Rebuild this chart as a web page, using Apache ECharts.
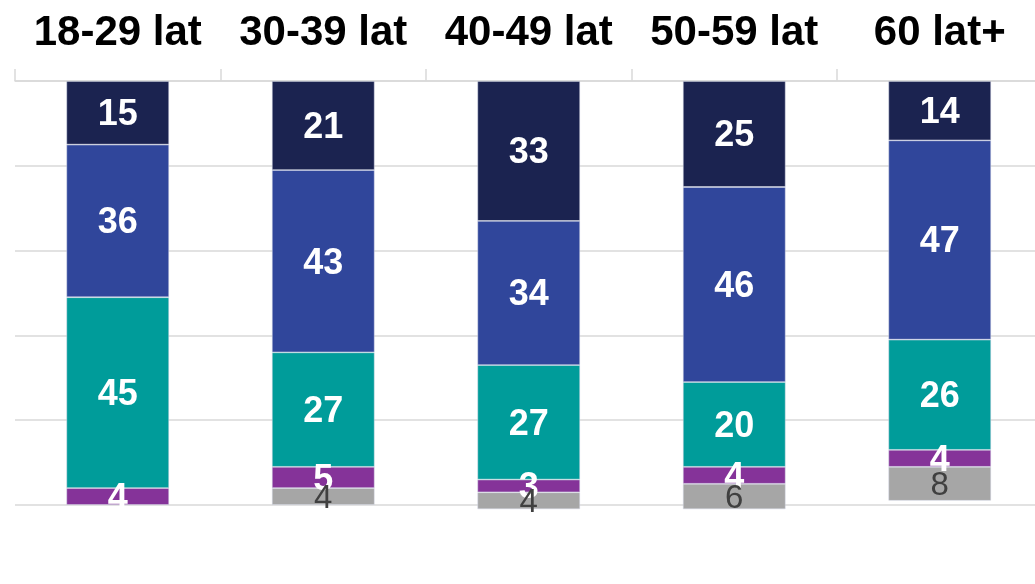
<!DOCTYPE html>
<html>
<head>
<meta charset="utf-8">
<script src="https://cdn.jsdelivr.net/npm/echarts@6/dist/echarts.min.js"></script>
<style>
html,body{margin:0;padding:0;background:#fff;}
#chart{width:1035px;height:584px;}
</style>
</head>
<body>
<div id="chart"></div>
<script>
var categories = ['18-29 lat', '30-39 lat', '40-49 lat', '50-59 lat', '60 lat+'];
var navyValues   = [15, 21, 33, 25, 14];
var blueValues   = [36, 43, 34, 46, 47];
var tealValues   = [45, 27, 27, 20, 26];
var purpleValues = [4, 5, 3, 4, 4];
var grayValues   = [null, 4, 4, 6, 8];
var yTicks = [0, 20, 40, 60, 80, 100];

var FONT = '"Liberation Sans", Arial, sans-serif';

function seg(name, data, color, labelColor, bold, size) {
  return {
    name: name,
    type: 'bar',
    stack: 'total',
    data: data,
    barWidth: '50%',
    clip: false,
    itemStyle: { color: color, borderColor: 'rgba(210,214,230,0.6)', borderWidth: 0.8 },
    label: {
      show: true,
      position: 'inside',
      offset: [0, 2.5],
      color: labelColor,
      fontFamily: FONT,
      fontWeight: bold ? 'bold' : 'normal',
      fontSize: size,
      formatter: function (p) { return p.value == null ? '' : String(p.value); }
    },
    emphasis: { disabled: true }
  };
}

var chart = echarts.init(document.getElementById('chart'));
chart.setOption({
  animation: false,
  grid: { left: 15, width: 1027.5, top: 81, bottom: 79, containLabel: false, outerBoundsMode: 'none' },
  xAxis: {
    type: 'category',
    position: 'top',
    data: categories,
    axisLine: { show: true, lineStyle: { color: '#d9d9d9', width: 1.5 } },
    axisTick: { show: true, length: 12, lineStyle: { color: '#d9d9d9', width: 1.5 } },
    axisLabel: { interval: 0, color: '#000', fontFamily: FONT, fontWeight: 'bold', fontSize: 42, margin: 27 }
  },
  yAxis: {
    type: 'value',
    inverse: true,
    min: yTicks[0],
    max: yTicks[yTicks.length - 1],
    interval: 20,
    axisLabel: { show: false },
    axisLine: { show: false },
    axisTick: { show: false },
    splitLine: { show: true, lineStyle: { color: '#d9d9d9', width: 1.5 } }
  },
  series: [
    seg('navy', navyValues, '#1b2350', '#fff', true, 36),
    seg('blue', blueValues, '#30469b', '#fff', true, 36),
    seg('teal', tealValues, '#009c9a', '#fff', true, 36),
    seg('purple', purpleValues, '#853399', '#fff', true, 36),
    seg('gray', grayValues, '#a6a6a6', '#404040', false, 33)
  ]
});
</script>
</body>
</html>
